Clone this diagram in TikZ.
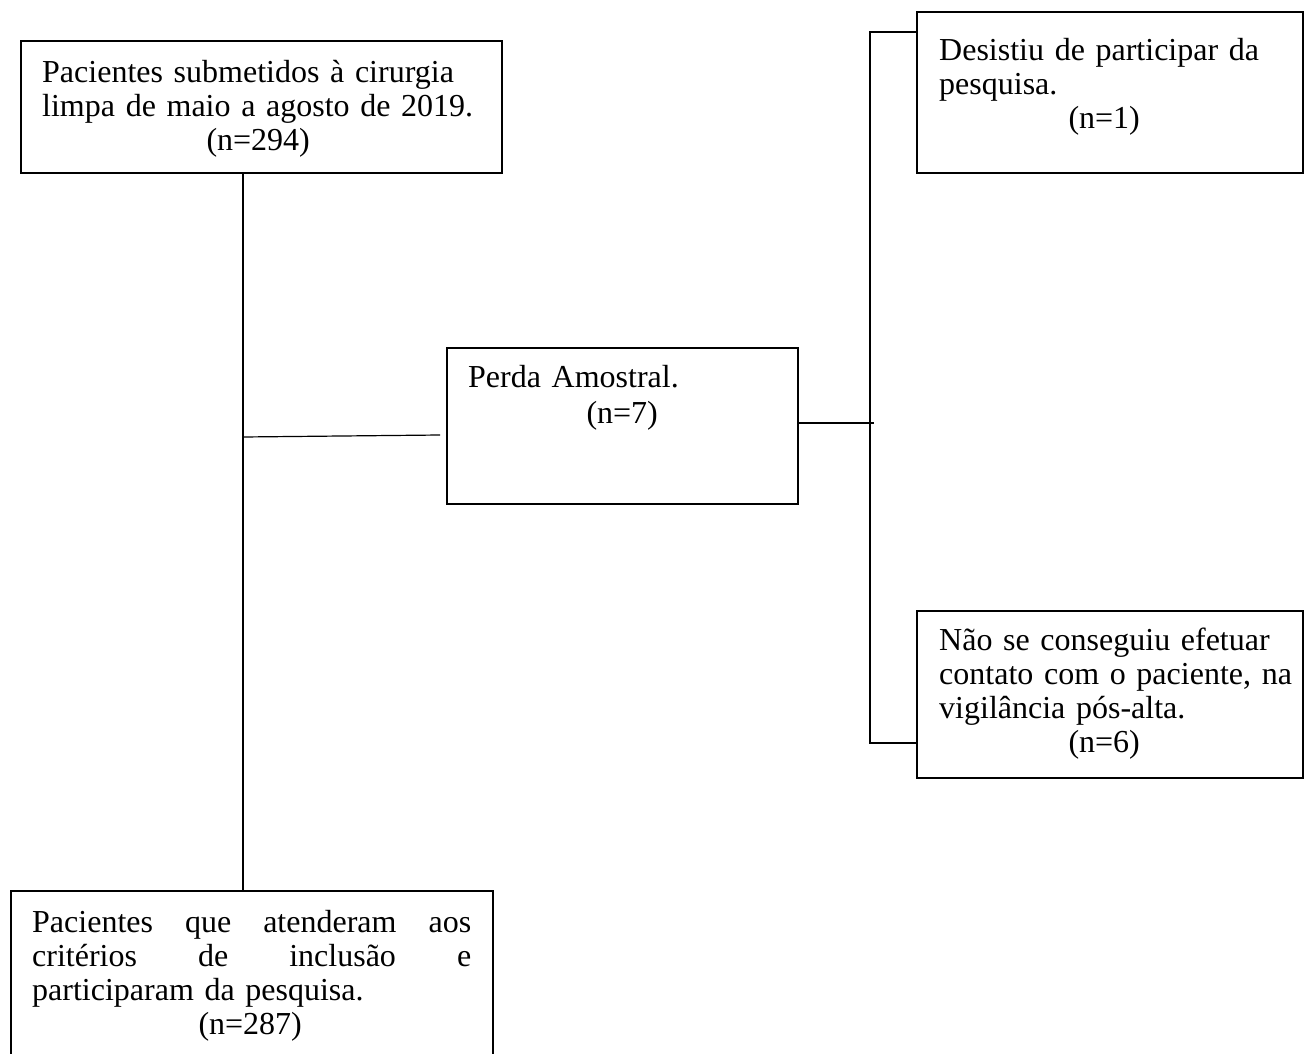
\documentclass[tikz,border=0pt]{standalone}
\usepackage{fontspec}
\setmainfont{Liberation Serif}
\begin{document}
\begin{tikzpicture}[x=1pt,y=-1pt,
  box/.style={draw=black, line width=1.8pt, inner sep=0pt, outer sep=0pt, anchor=north west},
  thinbox/.style={box, line width=1.2pt},
  txt/.style={inner sep=0pt, anchor=north west, font=\fontsize{32}{34}\selectfont},
  conn/.style={draw=black, line width=1.2pt}]
\useasboundingbox (0,0) rectangle (1309,1054);
\clip (0,0) rectangle (1309,1054);
\fill[white] (0,0) rectangle (1309,1054);
% boxes
\node[box, minimum width=481pt, minimum height=132pt] (A) at (21,41) {};
\node[thinbox, minimum width=351pt, minimum height=156pt] (B) at (447,348) {};
\node[box, minimum width=386pt, minimum height=161pt] (C) at (917,12) {};
\node[box, minimum width=386pt, minimum height=167pt] (D) at (917,611) {};
\node[box, minimum width=482pt, minimum height=200pt] (E) at (11,891) {};
% texts
\node[txt, text width=440pt] (At) at (42,58.2) {\strut Pacientes submetidos à cirurgia\\limpa de maio a agosto de 2019.\\\makebox[432pt]{(n=294)}};
\node[txt, text width=320pt, font=\fontsize{32}{36}\selectfont] (Bt) at (468,361.8) {\strut Perda Amostral.\\\makebox[308pt]{(n=7)}};
\node[txt, text width=360pt] (Ct) at (939,36.2) {\strut Desistiu de participar da\\pesquisa.\\\makebox[330pt]{(n=1)}};
\node[txt, text width=360pt] (Dt) at (939,626.2) {\strut Não se conseguiu efetuar\\contato com o paciente, na\\vigilância pós-alta.\\\makebox[330pt]{(n=6)}};
\node[txt, text width=439pt] (Et) at (32,908.2) {\strut\makebox[439pt][s]{Pacientes\hfill que\hfill atenderam\hfill aos}\\\makebox[439pt][s]{critérios\hfill de\hfill inclusão\hfill e}\\participaram da pesquisa.\\\makebox[436pt]{(n=287)}};
% connectors
\coordinate (j1) at (243,437);
\coordinate (j1e) at (440,435);
\coordinate (j2) at (870,423);
\coordinate (j2e) at (874,423);
\coordinate (j2top) at (870,32);
\coordinate (j2bot) at (870,743);
\draw[conn] (A.south -| j1) -- (E.north -| j1);
\draw[conn] (j1) -- (j1e);
\draw[conn] (B.east |- j2) -- (j2e);
\draw[conn] (C.west |- j2top) -- (j2top) -- (j2bot) -- (D.west |- j2bot);
\end{tikzpicture}
\end{document}
